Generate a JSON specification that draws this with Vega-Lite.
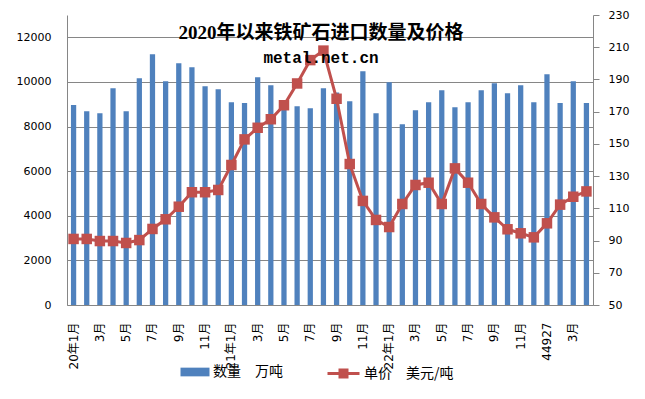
{
  "$schema": "https://vega.github.io/schema/vega-lite/v6.json",
  "width": 526,
  "height": 290,
  "autosize": {"type": "none"},
  "padding": {"left": 67, "top": 15, "right": 52, "bottom": 94},
  "background": "white",
  "config": {
    "view": {"stroke": null},
    "axis": {"labelColor": "black", "domainColor": "#868686", "tickColor": "#868686", "gridColor": "#868686", "title": null}
  },
  "title": {
    "text": "2020年以来铁矿石进口数量及价格",
    "subtitle": "metal.net.cn",
    "anchor": "middle",
    "frame": "group",
    "orient": "top",
    "offset": -51,
    "dx": -9,
    "dy": 6,
    "font": "Liberation Serif, Noto Sans CJK SC",
    "fontSize": 19,
    "fontWeight": "bold",
    "color": "black",
    "subtitleFont": "Liberation Mono",
    "subtitleFontSize": 16,
    "subtitleFontWeight": "bold",
    "subtitleColor": "black",
    "subtitlePadding": 7
  },
  "data": {
    "values": [
      {"m": "2020-01", "qty": 8960, "price": 91},
      {"m": "2020-02", "qty": 8690, "price": 91},
      {"m": "2020-03", "qty": 8600, "price": 89.7},
      {"m": "2020-04", "qty": 9720, "price": 89.7},
      {"m": "2020-05", "qty": 8690, "price": 88.5},
      {"m": "2020-06", "qty": 10170, "price": 90.3},
      {"m": "2020-07", "qty": 11240, "price": 97.2},
      {"m": "2020-08", "qty": 10030, "price": 103.2},
      {"m": "2020-09", "qty": 10840, "price": 111},
      {"m": "2020-10", "qty": 10660, "price": 120},
      {"m": "2020-11", "qty": 9810, "price": 120},
      {"m": "2020-12", "qty": 9670, "price": 121.4},
      {"m": "2021-01", "qty": 9090, "price": 136.9},
      {"m": "2021-02", "qty": 9050, "price": 152.8},
      {"m": "2021-03", "qty": 10210, "price": 160},
      {"m": "2021-04", "qty": 9850, "price": 165.3},
      {"m": "2021-05", "qty": 9150, "price": 174},
      {"m": "2021-06", "qty": 8910, "price": 187.5},
      {"m": "2021-07", "qty": 8820, "price": 202},
      {"m": "2021-08", "qty": 9720, "price": 207.9},
      {"m": "2021-09", "qty": 9530, "price": 178},
      {"m": "2021-10", "qty": 9135, "price": 137.5},
      {"m": "2021-11", "qty": 10480, "price": 114.6},
      {"m": "2021-12", "qty": 8600, "price": 102.8},
      {"m": "2022-01", "qty": 9990, "price": 98.4},
      {"m": "2022-02", "qty": 8105, "price": 112.7},
      {"m": "2022-03", "qty": 8730, "price": 124.5},
      {"m": "2022-04", "qty": 9090, "price": 125.9},
      {"m": "2022-05", "qty": 9630, "price": 112.7},
      {"m": "2022-06", "qty": 8870, "price": 134.8},
      {"m": "2022-07", "qty": 9090, "price": 125.9},
      {"m": "2022-08", "qty": 9630, "price": 112.7},
      {"m": "2022-09", "qty": 9940, "price": 104.4},
      {"m": "2022-10", "qty": 9490, "price": 97},
      {"m": "2022-11", "qty": 9850, "price": 94.5},
      {"m": "2022-12", "qty": 9090, "price": 92},
      {"m": "2023-01", "qty": 10340, "price": 100.7},
      {"m": "2023-02", "qty": 9050, "price": 112.3},
      {"m": "2023-03", "qty": 10030, "price": 117.2},
      {"m": "2023-04", "qty": 9050, "price": 120.5}
    ]
  },
  "encoding": {
    "x": {
      "field": "m",
      "type": "ordinal",
      "sort": null,
      "scale": {"type": "band", "paddingInner": 0.6, "paddingOuter": 0.3},
      "axis": {
        "labelAngle": -90,
        "ticks": false,
        "labelPadding": 17,
        "labelOverlap": false,
        "labelFont": "DejaVu Sans, Noto Sans CJK SC",
        "labelFontSize": 12,
        "labelExpr": "datum.value == '2023-01' ? '44927' : (toNumber(slice(datum.value, 5)) % 2 == 0 ? '' : (slice(datum.value, 5) == '01' ? slice(datum.value, 2, 4) + '年' : '') + toNumber(slice(datum.value, 5)) + '月')"
      }
    }
  },
  "layer": [
    {
      "mark": {"type": "bar"},
      "encoding": {
        "y": {
          "field": "qty",
          "type": "quantitative",
          "scale": {"domain": [0, 13000], "nice": false},
          "axis": {
            "orient": "left",
            "values": [0, 2000, 4000, 6000, 8000, 10000, 12000],
            "format": "d",
            "ticks": false,
            "labelPadding": 16,
            "labelFont": "DejaVu Sans",
            "labelFontSize": 11,
            "grid": true,
            "gridWidth": 1
          }
        },
        "fill": {
          "datum": "数量　万吨",
          "scale": {"range": ["#4F81BD"]},
          "legend": {
            "orient": "none",
            "legendX": 118,
            "legendY": 347,
            "title": null,
            "symbolType": "M-1.5,-0.45H1.5V0.45H-1.5Z",
            "symbolSize": 374,
            "symbolStrokeWidth": 0,
            "labelFont": "Noto Sans CJK SC",
            "labelFontSize": 14,
            "labelColor": "black",
            "labelOffset": 8
          }
        }
      }
    },
    {
      "layer": [
        {
          "mark": {"type": "line", "strokeWidth": 3},
          "encoding": {
            "stroke": {
              "datum": "单价　美元/吨",
              "scale": {"range": ["#C0504D"]},
              "legend": {
                "orient": "none",
                "legendX": 265,
                "legendY": 347,
                "title": null,
                "symbolType": "M-1.6,0H1.6M-0.35,-0.35H0.35V0.35H-0.35Z",
                "symbolSize": 400,
                "symbolStrokeWidth": 3,
                "symbolFillColor": "#C0504D",
                "labelFont": "Noto Sans CJK SC",
                "labelFontSize": 14,
                "labelColor": "black",
                "labelOffset": 9
              }
            }
          }
        },
        {
          "mark": {"type": "point", "shape": "square", "filled": true, "size": 110, "color": "#C0504D", "opacity": 1},
          "encoding": {}
        }
      ],
      "encoding": {
        "y": {
          "field": "price",
          "type": "quantitative",
          "scale": {"domain": [50, 230], "nice": false, "zero": false},
          "axis": {
            "orient": "right",
            "values": [50, 70, 90, 110, 130, 150, 170, 190, 210, 230],
            "ticks": true,
            "tickSize": 6,
            "labelPadding": 9,
            "labelFont": "DejaVu Sans",
            "labelFontSize": 11,
            "grid": false
          }
        }
      }
    }
  ],
  "resolve": {"scale": {"y": "independent"}}
}
